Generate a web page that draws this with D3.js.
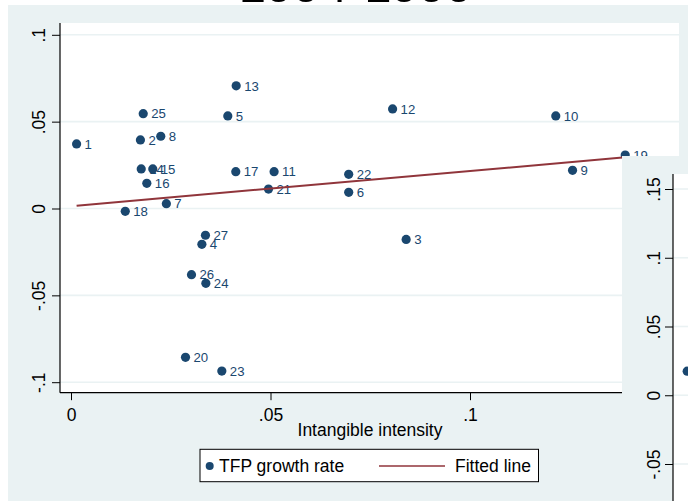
<!DOCTYPE html>
<html>
<head>
<meta charset="utf-8">
<script src="https://cdn.jsdelivr.net/npm/d3@7"></script>
<style>
  html, body { margin: 0; padding: 0; background: #ffffff; }
  svg { display: block; font-family: "Liberation Sans", Arial, sans-serif; }
</style>
</head>
<body>
<svg id="chart" width="688" height="501"></svg>
<script>
// Industry identifiers, intangible intensity (x) and TFP growth rate (y), 1994-1999
const industryIds = [1, 2, 3, 4, 5, 6, 7, 8, 9, 10, 11, 12, 13, 14, 15, 16, 17, 18, 19, 20, 21, 22, 23, 24, 25, 26, 27];
const intensity = [0.0014, 0.0174, 0.0840, 0.0328, 0.0393, 0.0696, 0.0239, 0.0225, 0.1257, 0.1215,
                   0.0509, 0.0806, 0.0414, 0.0176, 0.0205, 0.0190, 0.0413, 0.0136, 0.1389, 0.0287,
                   0.0495, 0.0696, 0.0378, 0.0338, 0.0181, 0.0302, 0.0337];
const tfpGrowth = [0.0372, 0.0395, -0.0178, -0.0206, 0.0533, 0.0093, 0.0028, 0.0416, 0.0220, 0.0533,
                   0.0212, 0.0573, 0.0706, 0.0228, 0.0228, 0.0145, 0.0212, -0.0016, 0.0308, -0.0857,
                   0.0112, 0.0197, -0.0936, -0.0431, 0.0546, -0.0381, -0.0154];

// Fitted line: intercept, slope
const fitCoef = [0.00135, 0.2024];

// Axis ticks
const xTicks = [0, 0.05, 0.1];
const yTicks = [-0.1, -0.05, 0, 0.05, 0.1];

// Next panel (partly covered by the page edge)
const panel2Ticks = [-0.05, 0, 0.05, 0.1, 0.15];
const panel2Intensity = [0.0008];
const panel2Growth = [0.0175];

const titleText = "1994-1999";
const xTitle = "Intangible intensity";
const legendLabels = ["TFP growth rate", "Fitted line"];

const navy = "#1a476f";
const maroon = "#90353b";
const bluishGray = "#eaf2f3";
const font = '"Liberation Sans", Arial, sans-serif';

const svg = d3.select("#chart");

// Graph region
svg.append("rect").attr("x", 8).attr("y", 5).attr("width", 680).attr("height", 496).attr("fill", bluishGray);

svg.append("text")
  .attr("x", 356).attr("y", 1.5)
  .attr("text-anchor", "middle")
  .attr("font-size", 49)
  .attr("fill", "#000")
  .text(titleText);

// Plot region
const plot = { left: 60, right: 679, top: 23, bottom: 392.7 };
svg.append("rect")
  .attr("x", plot.left).attr("y", plot.top)
  .attr("width", plot.right - plot.left).attr("height", plot.bottom - plot.top)
  .attr("fill", "#fff");

const x = d3.scaleLinear().domain([0, 0.1]).range([71, 470]);
const y = d3.scaleLinear().domain([-0.1, 0.1]).range([382.2, 34.8]);

// Stata-style tick labels: ".05", "-.1", "0"
const fmt = d => {
  if (d === 0) return "0";
  const s = String(+Math.abs(d).toFixed(4)).replace(/^0\./, ".");
  return (d < 0 ? "-" : "") + s;
};

// Horizontal grid
svg.append("g").selectAll("line").data(yTicks).join("line")
  .attr("x1", plot.left).attr("x2", plot.right)
  .attr("y1", d => y(d)).attr("y2", d => y(d))
  .attr("stroke", bluishGray).attr("stroke-width", 1.6);

// Y axis
const yAxis = svg.append("g").attr("transform", `translate(${plot.left},0)`)
  .call(d3.axisLeft(y).tickValues(yTicks).tickFormat(fmt).tickSize(8).tickSizeOuter(0));
yAxis.select(".domain").remove();
yAxis.append("line").attr("x1", 0).attr("x2", 0).attr("y1", plot.top).attr("y2", plot.bottom)
  .attr("stroke", "#000").attr("stroke-width", 1.2);
yAxis.selectAll(".tick line").attr("stroke", "#000").attr("stroke-width", 1);
yAxis.selectAll(".tick text")
  .attr("font-family", font).attr("font-size", 17.5).attr("fill", "#000")
  .attr("x", null).attr("dy", null)
  .attr("text-anchor", "middle")
  .attr("transform", "translate(-15,0) rotate(-90)");

// X axis
const xAxis = svg.append("g").attr("transform", `translate(0,${plot.bottom})`)
  .call(d3.axisBottom(x).tickValues(xTicks).tickFormat(fmt).tickSize(7.5).tickSizeOuter(0));
xAxis.select(".domain").remove();
xAxis.append("line").attr("x1", plot.left).attr("x2", plot.right).attr("y1", 0).attr("y2", 0)
  .attr("stroke", "#000").attr("stroke-width", 1.2);
xAxis.selectAll(".tick line").attr("stroke", "#000").attr("stroke-width", 1);
xAxis.selectAll(".tick text")
  .attr("font-family", font).attr("font-size", 17.5).attr("fill", "#000")
  .attr("dy", null).attr("y", 28);

svg.append("text")
  .attr("x", 370).attr("y", 436)
  .attr("text-anchor", "middle")
  .attr("font-size", 17.5).attr("fill", "#000")
  .text(xTitle);

// Scatter points
const points = industryIds.map((id, i) => ({ id, x: intensity[i], y: tfpGrowth[i] }));

svg.append("g").selectAll("circle").data(points).join("circle")
  .attr("cx", d => x(d.x)).attr("cy", d => y(d.y)).attr("r", 4.6)
  .attr("fill", navy);

svg.append("g").selectAll("text").data(points).join("text")
  .attr("x", d => x(d.x) + 8).attr("y", d => y(d.y) + 4.7)
  .attr("font-size", 13.2).attr("fill", navy)
  .text(d => d.id);

// Fitted line over the observed range
const xExt = d3.extent(intensity);
const fitLine = xExt.map(v => ({ x: v, y: fitCoef[0] + fitCoef[1] * v }));
svg.append("path").datum(fitLine)
  .attr("d", d3.line().x(d => x(d.x)).y(d => y(d.y)))
  .attr("fill", "none").attr("stroke", maroon).attr("stroke-width", 2);

// Legend
const lg = svg.append("g");
lg.append("rect").attr("x", 200).attr("y", 449.3).attr("width", 338.5).attr("height", 32.4)
  .attr("fill", "#fff").attr("stroke", "#000").attr("stroke-width", 1);
lg.append("circle").attr("cx", 209.7).attr("cy", 466).attr("r", 4).attr("fill", navy);
lg.append("text").attr("x", 219).attr("y", 472).attr("font-size", 17.5).attr("fill", "#000").text(legendLabels[0]);
lg.append("line").attr("x1", 379).attr("x2", 445).attr("y1", 466).attr("y2", 466)
  .attr("stroke", maroon).attr("stroke-width", 1.5);
lg.append("text").attr("x", 455).attr("y", 472).attr("font-size", 17.5).attr("fill", "#000").text(legendLabels[1]);

// Next panel, overlapping on the right
const p2 = svg.append("g");
p2.append("rect").attr("x", 622).attr("y", 156).attr("width", 66).attr("height", 345).attr("fill", bluishGray);
p2.append("rect").attr("x", 673).attr("y", 174).attr("width", 15).attr("height", 327).attr("fill", "#fff");
const y2 = d3.scaleLinear().domain([-0.05, 0.15]).range([464, 189]);
const x2 = d3.scaleLinear().domain([0, 0.1]).range([684, 1083]);
p2.append("g").selectAll("line").data(panel2Ticks).join("line")
  .attr("x1", 673).attr("x2", 688).attr("y1", d => y2(d)).attr("y2", d => y2(d))
  .attr("stroke", bluishGray).attr("stroke-width", 1.6);
const y2Axis = p2.append("g").attr("transform", "translate(673,0)")
  .call(d3.axisLeft(y2).tickValues(panel2Ticks).tickFormat(fmt).tickSize(8).tickSizeOuter(0));
y2Axis.select(".domain").remove();
y2Axis.append("line").attr("x1", 0).attr("x2", 0).attr("y1", 174).attr("y2", 501)
  .attr("stroke", "#000").attr("stroke-width", 1.2);
y2Axis.selectAll(".tick line").attr("stroke", "#000").attr("stroke-width", 1);
y2Axis.selectAll(".tick text")
  .attr("font-family", font).attr("font-size", 17.5).attr("fill", "#000")
  .attr("x", null).attr("dy", null)
  .attr("text-anchor", "middle")
  .attr("transform", "translate(-13,0) rotate(-90)");
p2.append("g").selectAll("circle").data(panel2Intensity).join("circle")
  .attr("cx", (d) => x2(d)).attr("cy", (d, i) => y2(panel2Growth[i])).attr("r", 4.6)
  .attr("fill", navy);
</script>
</body>
</html>
